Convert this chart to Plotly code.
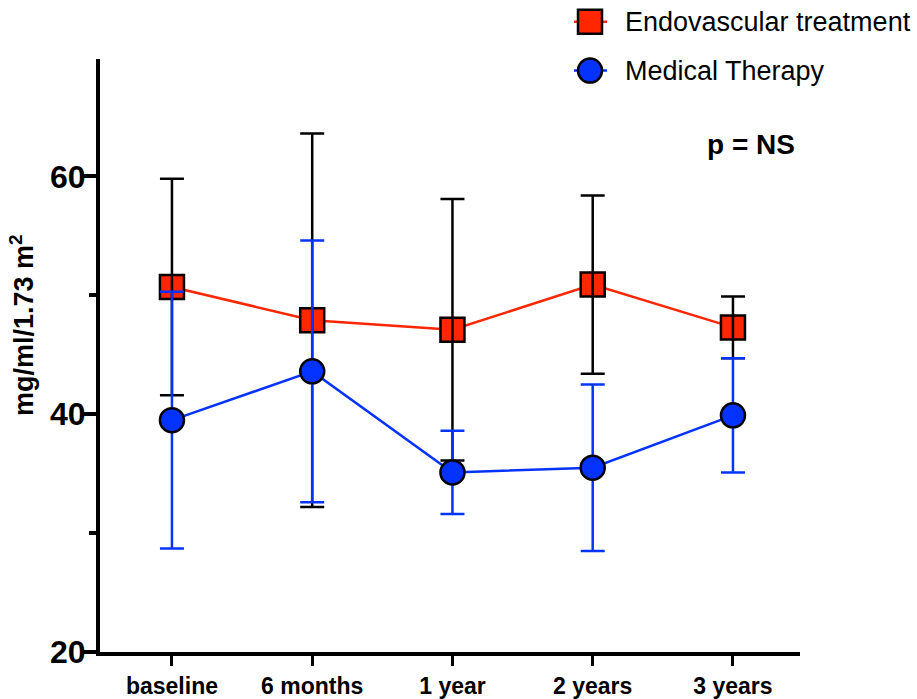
import plotly.graph_objects as go

# Time points and group summaries (mean and SD)
timepoints = ["baseline", "6 months", "1 year", "2 years", "3 years"]
endo_mean = [50.7, 47.9, 47.1, 50.9, 47.3]
endo_sd = [9.1, 15.7, 11.0, 7.5, 2.6]
med_mean = [39.5, 43.6, 35.1, 35.5, 39.9]
med_sd = [10.8, 11.0, 3.5, 7.0, 4.8]

y_major = [20, 40, 60]
y_minor = [30, 50]

RED = "#ff2600"
BLUE = "#0433ff"
FONT = "Liberation Sans, Arial, sans-serif"

xpos = list(range(len(timepoints)))

W, H = 917, 699
ML, MB = 100, 43
PW, PH = W - ML, H - MB  # paper area in px

fig = go.Figure()

# Endovascular: line and square markers
fig.add_trace(go.Scatter(
    x=xpos, y=endo_mean, mode="lines+markers", name="Endovascular treatment",
    line=dict(color=RED, width=2.5),
    marker=dict(symbol="square", size=24, color=RED, line=dict(color="black", width=2.5)),
    showlegend=False,
))
# Endovascular SD bars in black, drawn over the squares
fig.add_trace(go.Scatter(
    x=xpos, y=endo_mean, mode="markers",
    marker=dict(size=1, color="rgba(0,0,0,0)"),
    error_y=dict(type="data", array=endo_sd, color="black", thickness=2.5, width=12),
    showlegend=False, hoverinfo="skip",
))
# Medical therapy: line, circle markers and blue SD bars
fig.add_trace(go.Scatter(
    x=xpos, y=med_mean, mode="lines+markers", name="Medical Therapy",
    line=dict(color=BLUE, width=2.5),
    marker=dict(symbol="circle", size=24, color=BLUE, line=dict(color="black", width=2.5)),
    error_y=dict(type="data", array=med_sd, color=BLUE, thickness=2.5, width=12),
    showlegend=False,
))

# Legend keys on a pixel-scaled overlay subplot
legend_items = [("Endovascular treatment", RED, "square", 22),
                ("Medical Therapy", BLUE, "circle", 71)]
for label, color, symbol, ky in legend_items:
    fig.add_trace(go.Scatter(
        x=[574, 607], y=[ky, ky], mode="lines", line=dict(color=color, width=2.5),
        xaxis="x2", yaxis="y2", showlegend=False, hoverinfo="skip",
    ))
    fig.add_trace(go.Scatter(
        x=[590], y=[ky], mode="markers",
        marker=dict(symbol=symbol, size=24, color=color, line=dict(color="black", width=2.5)),
        xaxis="x2", yaxis="y2", showlegend=False, hoverinfo="skip",
    ))

annotations = []
for label, color, symbol, ky in legend_items:
    annotations.append(dict(
        x=623, y=ky, xref="x2", yref="y2", text=label, showarrow=False,
        xanchor="left", yanchor="middle",
        font=dict(family=FONT, size=27, color="black"),
    ))
annotations.append(dict(
    x=751, y=145, xref="x2", yref="y2", text="p = NS", showarrow=False,
    xanchor="center", yanchor="middle",
    font=dict(family=FONT, size=28, color="black", weight="bold"),
))
annotations.append(dict(
    x=(22 - ML) / PW, y=1 - 327 / PH, xref="paper", yref="paper",
    text="mg/ml/1.73 m<sup>2</sup>",
    showarrow=False, textangle=-90, xanchor="center", yanchor="middle",
    font=dict(family=FONT, size=27, color="black", weight="bold"),
))

fig.update_layout(
    width=W, height=H,
    margin=dict(l=ML, r=0, t=0, b=MB, pad=0),
    paper_bgcolor="white", plot_bgcolor="rgba(0,0,0,0)",
    showlegend=False,
    xaxis=dict(
        domain=[0, 700 / PW], range=[-0.513, 4.478],
        tickmode="array", tickvals=xpos, ticktext=timepoints,
        ticks="outside", ticklen=10, tickwidth=3, tickcolor="black",
        showline=True, linewidth=4, linecolor="black",
        showgrid=False, zeroline=False,
        tickfont=dict(family=FONT, size=23, color="black", weight="bold"),
    ),
    yaxis=dict(
        domain=[0, 597 / PH], range=[20, 69.9],
        tickmode="array", tickvals=y_major, ticktext=[str(v) for v in y_major],
        ticks="outside", ticklen=12, tickwidth=4, tickcolor="black",
        ticklabelstandoff=-8,
        minor=dict(tickmode="array", tickvals=y_minor, ticks="outside",
                   ticklen=7, tickwidth=4, tickcolor="black", showgrid=False),
        showline=True, linewidth=4, linecolor="black",
        showgrid=False, zeroline=False,
        tickfont=dict(family=FONT, size=32, color="black", weight="bold"),
    ),
    xaxis2=dict(domain=[0, 1], range=[ML, W], anchor="y2", visible=False,
                fixedrange=True),
    yaxis2=dict(domain=[0, 1], range=[PH, 0], anchor="x2", visible=False,
                fixedrange=True),
    annotations=annotations,
)

fig.write_html("out.html")
